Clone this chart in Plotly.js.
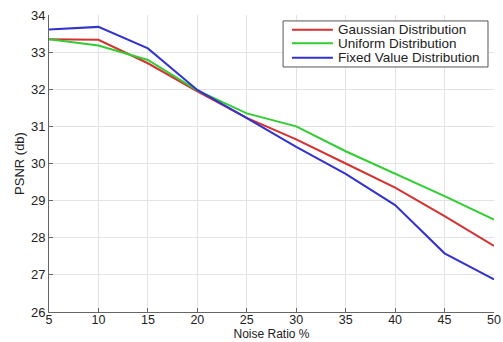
<!DOCTYPE html>
<html>
<head>
<meta charset="utf-8">
<script src="https://cdn.plot.ly/plotly-3.0.1.min.js"></script>
<style>
  html, body { margin: 0; padding: 0; background: #fff; }
  #chart { width: 503px; height: 342px; }
</style>
</head>
<body>
<div id="chart"></div>
<script>
// Noise ratio (%) on the x axis
const noiseRatio = [5, 10, 15, 20, 25, 30, 35, 40, 45, 50];

// PSNR (db) for each noise distribution
const gaussianPSNR = [33.35, 33.33, 32.70, 31.94, 31.23, 30.65, 30.00, 29.35, 28.58, 27.78];
const uniformPSNR  = [33.35, 33.18, 32.79, 31.97, 31.35, 31.00, 30.33, 29.73, 29.12, 28.49];
const fixedPSNR    = [33.61, 33.68, 33.10, 31.98, 31.22, 30.45, 29.72, 28.88, 27.58, 26.88];

const seriesNames = ['Gaussian Distribution', 'Uniform Distribution', 'Fixed Value Distribution'];
const seriesColors = ['#d43232', '#32cd32', '#3232cd'];

const FONT = 'Liberation Sans, Arial, sans-serif';

const traces = [gaussianPSNR, uniformPSNR, fixedPSNR].map((ys, i) => ({
  x: noiseRatio,
  y: ys,
  type: 'scatter',
  mode: 'lines',
  name: seriesNames[i],
  line: { color: seriesColors[i], width: 2 },
  showlegend: false
}));

// Compact boxed legend (paper coordinates, top-right of the plot area)
const legendBox = { x0: 0.526, x1: 0.9865, y0: 0.825, y1: 0.98 };
const legendRowY = [0.9505, 0.9047, 0.8562];
const legendLineX = [0.546, 0.638];
const legendTextX = 0.646;

const shapes = [{
  type: 'rect', xref: 'paper', yref: 'paper',
  x0: legendBox.x0, x1: legendBox.x1, y0: legendBox.y0, y1: legendBox.y1,
  line: { color: '#555', width: 1 }, fillcolor: '#fff', layer: 'above'
}].concat(seriesNames.map((n, i) => ({
  type: 'line', xref: 'paper', yref: 'paper',
  x0: legendLineX[0], x1: legendLineX[1], y0: legendRowY[i], y1: legendRowY[i],
  line: { color: seriesColors[i], width: 2 }, layer: 'above'
})));

const annotations = seriesNames.map((n, i) => ({
  xref: 'paper', yref: 'paper', x: legendTextX, y: legendRowY[i],
  xanchor: 'left', yanchor: 'middle', showarrow: false,
  text: n, font: { family: FONT, size: 13.5, color: '#222' }
}));

const axisCommon = {
  showgrid: true,
  gridcolor: '#e3e3e3',
  gridwidth: 1,
  zeroline: false,
  showline: true,
  linecolor: '#666',
  linewidth: 1,
  ticks: 'inside',
  ticklen: 4,
  tickcolor: '#666',
  tickfont: { family: FONT, size: 13, color: '#222' }
};

const layout = {
  width: 503,
  height: 342,
  margin: { l: 49, r: 9, t: 15, b: 30 },
  paper_bgcolor: '#fff',
  plot_bgcolor: '#fff',
  font: { family: FONT, color: '#222' },
  xaxis: Object.assign({}, axisCommon, {
    range: [5, 50],
    dtick: 5,
    tick0: 5,
    ticklabelstandoff: -4,
    tickfont: { family: FONT, size: 12.5, color: '#222' },
    title: { text: 'Noise Ratio %', font: { size: 12 }, standoff: 0 }
  }),
  yaxis: Object.assign({}, axisCommon, {
    range: [26, 34],
    dtick: 1,
    title: { text: 'PSNR (db)', font: { size: 13 }, standoff: 3 }
  }),
  shapes: shapes,
  annotations: annotations,
  showlegend: false
};

Plotly.newPlot('chart', traces, layout, { displayModeBar: false, staticPlot: true });
</script>
</body>
</html>
